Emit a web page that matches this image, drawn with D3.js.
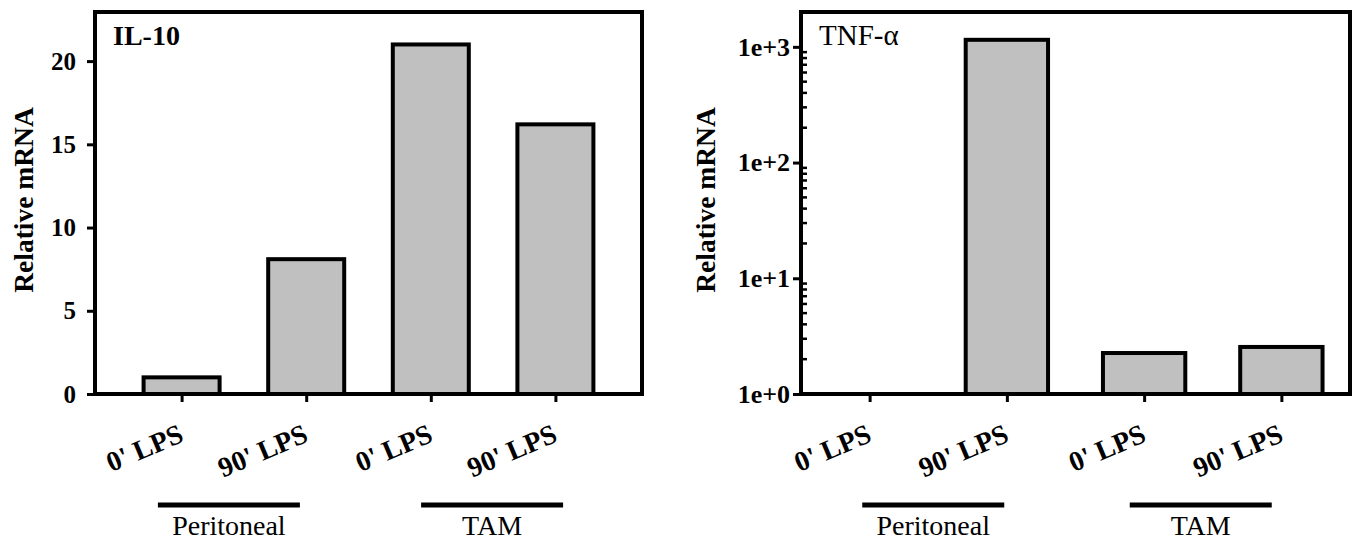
<!DOCTYPE html>
<html>
<head>
<meta charset="utf-8">
<script src="https://cdn.jsdelivr.net/npm/d3@7"></script>
<style>
  body { margin: 0; background: #fff; }
  svg { display: block; font-family: "Liberation Serif", "Times New Roman", serif; }
</style>
</head>
<body>
<script>
/* Data */
var categories = ["0' LPS", "90' LPS", "0' LPS", "90' LPS"];
var il10Values = [1.0, 8.1, 21.0, 16.2];
var tnfValues = [1.0, 1150, 2.26, 2.55];
var il10Ticks = [0, 5, 10, 15, 20];
var tnfTicks = [1, 10, 100, 1000];
var tnfTickLabels = ["1e+0", "1e+1", "1e+2", "1e+3"];
var groupNames = ["Peritoneal", "TAM"];
var groupIdx = [[0, 1], [2, 3]];

/* Chart */
var svg = d3.select("body").append("svg")
    .attr("width", 1357)
    .attr("height", 544);

function drawPanel(opt) {
    var g = svg.append("g");
    var idx = d3.range(categories.length);

    var x = d3.scalePoint()
        .domain(idx)
        .range([opt.x0, opt.x1])
        .padding(opt.pad);
    var barW = x.step() * opt.barFrac;

    var y = opt.y;

    // bars
    g.selectAll("rect.bar")
        .data(opt.values)
        .enter()
        .append("rect")
        .attr("class", "bar")
        .attr("x", function(d, i) { return x(i) - barW / 2; })
        .attr("y", function(d) { return y(d); })
        .attr("width", barW)
        .attr("height", function(d) { return opt.y0 - y(d); })
        .attr("fill", "#c0c0c0")
        .attr("stroke", "#000")
        .attr("stroke-width", 4);

    // y axis
    var ay = g.append("g")
        .attr("transform", "translate(" + opt.x0 + ",0)")
        .call(opt.axisY);
    ay.select(".domain").remove();
    ay.selectAll("line").attr("stroke-width", 3);
    ay.selectAll("text")
        .attr("font-size", opt.tickFont)
        .attr("font-weight", "bold")
        .attr("font-family", "Liberation Serif");

    // minor ticks (log only)
    if (opt.minor) {
        g.selectAll("line.minor")
            .data(opt.minor)
            .enter()
            .append("line")
            .attr("class", "minor")
            .attr("x1", opt.x0)
            .attr("x2", opt.x0 + 6)
            .attr("y1", function(d) { return y(d); })
            .attr("y2", function(d) { return y(d); })
            .attr("stroke", "#000")
            .attr("stroke-width", 2.5);
    }

    // x axis
    var ax = g.append("g")
        .attr("transform", "translate(0," + opt.y0 + ")")
        .call(d3.axisBottom(x).tickSize(8).tickFormat(function(i) { return categories[i]; }));
    ax.select(".domain").remove();
    ax.selectAll("line").attr("stroke-width", 3);
    ax.selectAll("text")
        .attr("y", 0)
        .attr("dy", 0)
        .attr("text-anchor", "end")
        .attr("transform", "translate(3,47) rotate(-23)")
        .attr("font-size", 28)
        .attr("font-weight", "bold")
        .attr("font-family", "Liberation Serif");

    // frame
    g.append("rect")
        .attr("x", opt.x0)
        .attr("y", opt.yTop)
        .attr("width", opt.x1 - opt.x0)
        .attr("height", opt.y0 - opt.yTop)
        .attr("fill", "none")
        .attr("stroke", "#000")
        .attr("stroke-width", 4);

    // panel label
    g.append("text")
        .attr("x", opt.x0 + 18)
        .attr("y", 45)
        .attr("font-size", opt.titleFont)
        .attr("font-weight", opt.titleWeight)
        .text(opt.title);

    // y title
    g.append("text")
        .attr("transform", "translate(" + opt.titleX + ",200) rotate(-90)")
        .attr("text-anchor", "middle")
        .attr("font-size", 27.5)
        .attr("font-weight", "bold")
        .text("Relative mRNA");

    // group bars + names
    groupIdx.forEach(function(p, k) {
        var cx = (x(p[0]) + x(p[1])) / 2 + opt.groupShift[k];
        g.append("line")
            .attr("x1", cx - 71)
            .attr("x2", cx + 71)
            .attr("y1", 505)
            .attr("y2", 505)
            .attr("stroke", "#000")
            .attr("stroke-width", 5);
        g.append("text")
            .attr("x", cx)
            .attr("y", 535)
            .attr("text-anchor", "middle")
            .attr("font-size", 28)
            .text(groupNames[k]);
    });
}

/* IL-10 */
var yLin = d3.scaleLinear().domain([0, 22.95]).range([394, 12]);
drawPanel({
    x0: 95, x1: 642, y0: 394, yTop: 12, pad: 0.695, barFrac: 0.61,
    values: il10Values, y: yLin,
    axisY: d3.axisLeft(yLin).tickValues(il10Ticks).tickSize(8).tickPadding(11),
    tickFont: 25, title: "IL-10", titleWeight: "bold", titleFont: 28, titleX: 33,
    groupShift: [-15, -1]
});

/* TNF-a */
var yLog = d3.scaleLog().domain([1, 2000]).range([394, 12]);
var minorTicks = yLog.ticks().filter(function(d) {
    return tnfTicks.indexOf(d) < 0 && d < 1000;
});
drawPanel({
    x0: 801, x1: 1350, y0: 394, yTop: 12, pad: 0.5, barFrac: 0.6,
    values: tnfValues, y: yLog,
    axisY: d3.axisLeft(yLog).tickValues(tnfTicks)
        .tickFormat(function(d, i) { return tnfTickLabels[i]; })
        .tickSize(8).tickPadding(3),
    minor: minorTicks,
    tickFont: 26, title: "TNF-\u03b1", titleWeight: "normal", titleFont: 29, titleX: 715,
    groupShift: [-5, -12]
});
</script>
</body>
</html>
